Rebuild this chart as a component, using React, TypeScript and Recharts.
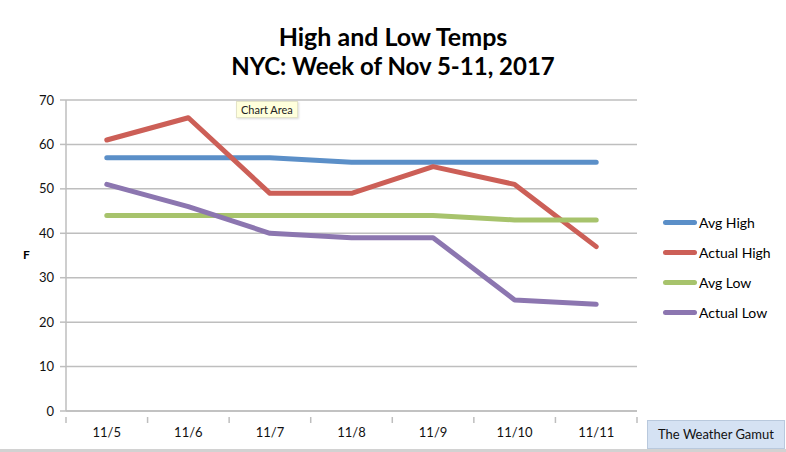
import { CartesianGrid, Line, LineChart, XAxis, YAxis } from 'recharts';

const days = ['11/5', '11/6', '11/7', '11/8', '11/9', '11/10', '11/11'];
const avgHigh = [57, 57, 57, 56, 56, 56, 56];
const actualHigh = [61, 66, 49, 49, 55, 51, 37];
const avgLow = [44, 44, 44, 44, 44, 43, 43];
const actualLow = [51, 46, 40, 39, 39, 25, 24];
const yTicks = [0, 10, 20, 30, 40, 50, 60, 70];

const SERIES = [
  { key: 'avgHigh', name: 'Avg High', color: '#5B8FC8' },
  { key: 'actualHigh', name: 'Actual High', color: '#CC5F57' },
  { key: 'avgLow', name: 'Avg Low', color: '#A7C36C' },
  { key: 'actualLow', name: 'Actual Low', color: '#8C76B0' },
];

const data = days.map((day, i) => ({
  day,
  avgHigh: avgHigh[i],
  actualHigh: actualHigh[i],
  avgLow: avgLow[i],
  actualLow: actualLow[i],
}));

const FONT = 'Lato, "Open Sans", sans-serif';
const GRID = '#BEBEBE';
const PLOT_W = 571;
const BAND = PLOT_W / days.length;

// category ticks sit between the labels, like the spreadsheet's axis
function DayTick(props: any) {
  const { x, y, payload, index } = props;
  const left = x - BAND / 2;
  return (
    <g>
      <line x1={left} y1={y - 2} x2={left} y2={y + 4} stroke={GRID} strokeWidth={1.5} />
      {index === days.length - 1 && (
        <line x1={x + BAND / 2} y1={y - 2} x2={x + BAND / 2} y2={y + 4} stroke={GRID} strokeWidth={1.5} />
      )}
      <text x={x} y={y + 18} textAnchor="middle" fontSize={13} fill="#111" fontFamily={FONT}>
        {payload.value}
      </text>
    </g>
  );
}

function SideLegend() {
  return (
    <div style={{ position: 'absolute', left: 663, top: 207, fontFamily: FONT, fontSize: 14, color: '#000' }}>
      {SERIES.map((s) => (
        <div key={s.key} style={{ display: 'flex', alignItems: 'center', height: 30 }}>
          <span
            style={{
              display: 'inline-block',
              width: 34,
              height: 5,
              borderRadius: 3,
              background: s.color,
              marginRight: 2,
            }}
          />
          {s.name}
        </div>
      ))}
    </div>
  );
}

export default function App() {
  return (
    <div style={{ position: 'absolute', left: 0, top: 0, width: 786, height: 452, background: '#fff', overflow: 'hidden' }}>
      <div
        style={{
          position: 'absolute',
          left: 0,
          width: 786,
          top: 22,
          textAlign: 'center',
          fontFamily: FONT,
          fontWeight: 700,
          fontSize: 24,
          lineHeight: '29px',
          color: '#000',
        }}
      >
        <div style={{ fontSize: 25 }}>High and Low Temps</div>
        <div>NYC: Week of Nov 5-11, 2017</div>
      </div>

      <LineChart width={786} height={452} data={data} margin={{ top: 100, right: 786 - 66 - PLOT_W, bottom: 11, left: 0 }}>
        <CartesianGrid vertical={false} stroke={GRID} strokeWidth={1.5} />
        <XAxis
          dataKey="day"
          height={30}
          padding={{ left: BAND / 2, right: BAND / 2 }}
          axisLine={{ stroke: GRID, strokeWidth: 1.5 }}
          tickLine={false}
          tick={<DayTick />}
          interval={0}
        />
        <YAxis
          domain={[0, 70]}
          ticks={yTicks}
          width={66}
          tickSize={6}
          tickMargin={6}
          axisLine={{ stroke: GRID, strokeWidth: 1.5 }}
          tickLine={{ stroke: GRID, strokeWidth: 1.5 }}
          tick={{ fontSize: 13, fill: '#111', fontFamily: FONT }}
        />
        {SERIES.map((s) => (
          <Line
            key={s.key}
            type="linear"
            dataKey={s.key}
            name={s.name}
            stroke={s.color}
            strokeWidth={5}
            strokeLinecap="round"
            strokeLinejoin="round"
            dot={false}
            activeDot={false}
            isAnimationActive={false}
          />
        ))}
      </LineChart>

      <SideLegend />

      <div style={{ position: 'absolute', left: 23, top: 247, fontFamily: FONT, fontWeight: 700, fontSize: 12 }}>F</div>

      <div
        style={{
          position: 'absolute',
          left: 236,
          top: 101,
          padding: '1px 4px',
          background: '#FFFFDC',
          border: '1px solid #E4E4C8',
          boxShadow: '1px 1px 2px rgba(0,0,0,0.15)',
          fontFamily: FONT,
          fontSize: 11,
          color: '#222',
        }}
      >
        Chart Area
      </div>

      <div
        style={{
          position: 'absolute',
          left: 647,
          top: 420,
          width: 136,
          height: 27,
          background: '#D5E2F3',
          border: '1px solid #B9C9DD',
          fontFamily: FONT,
          fontSize: 13,
          lineHeight: '27px',
          textAlign: 'center',
          color: '#111',
        }}
      >
        The Weather Gamut
      </div>

      <div style={{ position: 'absolute', left: 0, top: 449, width: 786, height: 3, background: '#D2D2D2' }} />
    </div>
  );
}
